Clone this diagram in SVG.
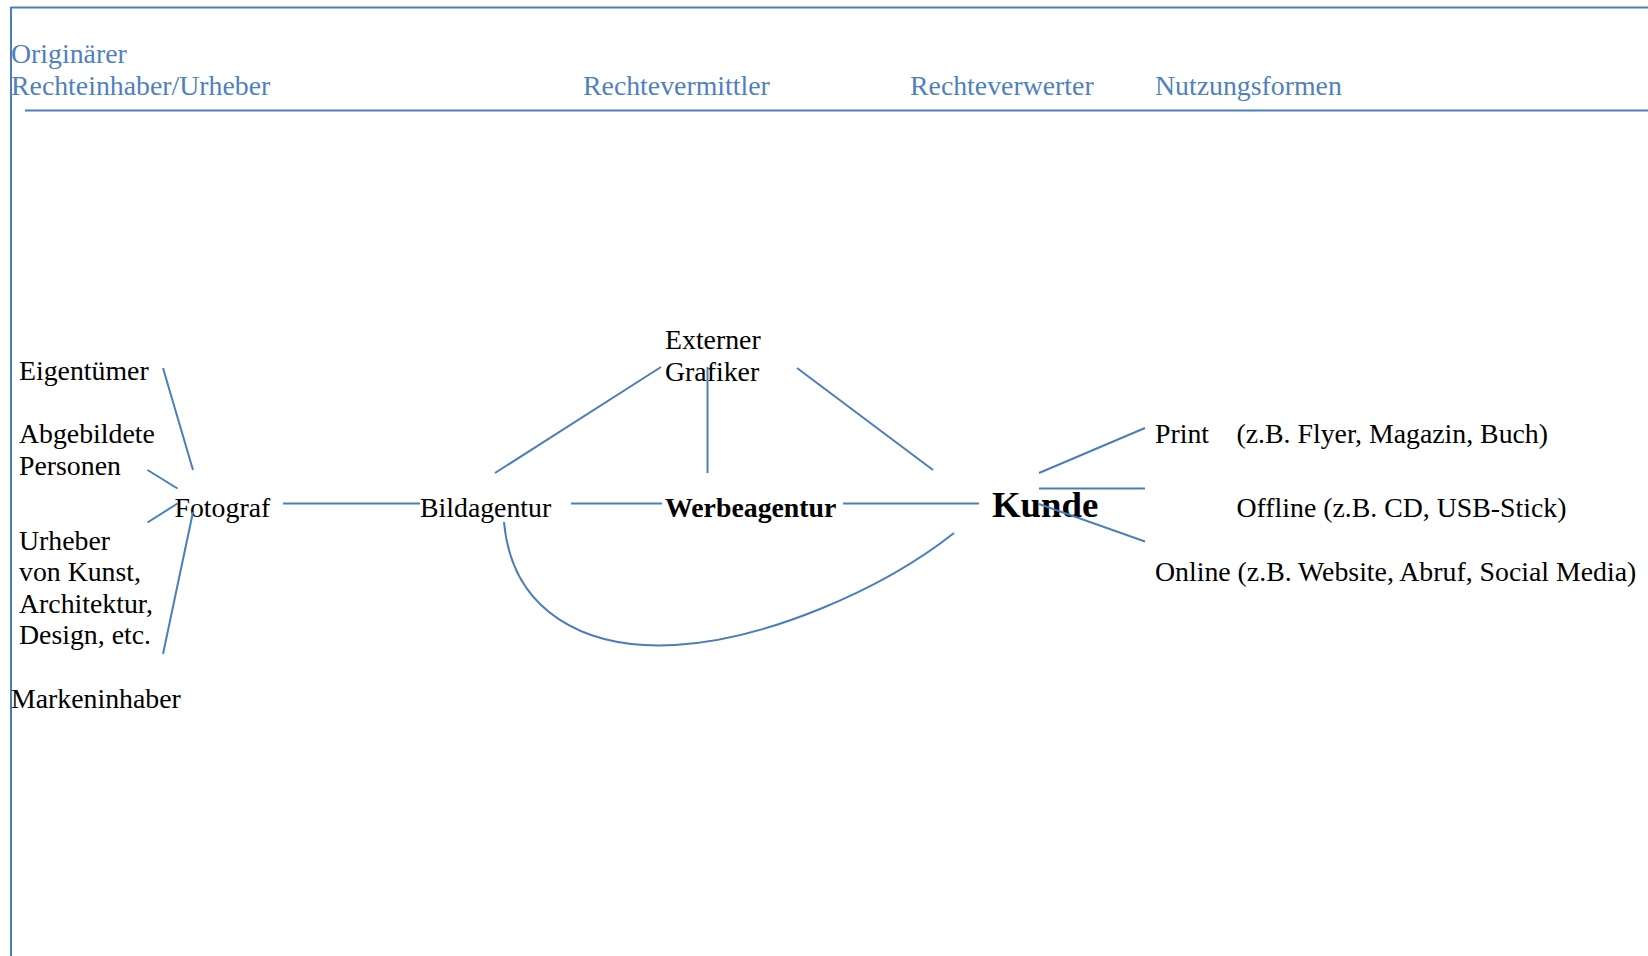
<svg xmlns="http://www.w3.org/2000/svg" width="1648" height="956" viewBox="0 0 1648 956">
<style>
text{font-family:"Liberation Serif","Times New Roman",serif;font-size:27.8px;fill:#000}
.hd{fill:#4f81bd}
.b{font-weight:bold}
.k{font-weight:bold;font-size:36.8px}
.ln{stroke:#4a7ebb;stroke-width:2;fill:none}
</style>
<rect width="1648" height="956" fill="#fff"/>
<g id="frame">
<line class="ln" x1="10.5" y1="7.5" x2="1648" y2="7.5"/>
<line class="ln" x1="11" y1="7" x2="11" y2="956"/>
<line class="ln" x1="25" y1="110.5" x2="1648" y2="110.5"/>
</g>
<g id="header">
<text class="hd" x="11" y="63">Originärer</text>
<text class="hd" x="11" y="94.5">Rechteinhaber/Urheber</text>
<text class="hd" x="583" y="94.5">Rechtevermittler</text>
<text class="hd" x="910" y="94.5">Rechteverwerter</text>
<text class="hd" x="1155" y="94.5">Nutzungsformen</text>
</g>
<g id="eigentuemer"><text x="19" y="380">Eigentümer</text></g>
<g id="abgebildete"><text x="19" y="443">Abgebildete</text><text x="19" y="475">Personen</text></g>
<g id="urheber"><text x="19" y="549.5">Urheber</text><text x="19" y="581">von Kunst,</text><text x="19" y="612.5">Architektur,</text><text x="19" y="644">Design, etc.</text></g>
<g id="markeninhaber"><text x="11" y="707.5">Markeninhaber</text></g>
<g id="fotograf"><text x="174.5" y="517">Fotograf</text></g>
<g id="bildagentur"><text x="420" y="517">Bildagentur</text></g>
<g id="grafiker"><text x="665" y="349">Externer</text><text x="665" y="380.5">Grafiker</text></g>
<g id="werbeagentur"><text class="b" x="665" y="517">Werbeagentur</text></g>
<g id="kunde"><text class="k" x="992" y="517">Kunde</text></g>
<g id="print"><text x="1155" y="443">Print</text><text x="1236.5" y="443">(z.B. Flyer, Magazin, Buch)</text></g>
<g id="offline"><text x="1236.5" y="517">Offline (z.B. CD, USB-Stick)</text></g>
<g id="online"><text x="1155" y="581">Online (z.B. Website, Abruf, Social Media)</text></g>
<g id="connectors">
<line class="ln" x1="163" y1="368" x2="193" y2="470"/>
<line class="ln" x1="147.5" y1="470" x2="177.5" y2="488.5"/>
<line class="ln" x1="147.5" y1="522.5" x2="177.5" y2="503.5"/>
<line class="ln" x1="163" y1="654" x2="193" y2="512"/>
<line class="ln" x1="283" y1="503.5" x2="420" y2="503.5"/>
<line class="ln" x1="571" y1="503.5" x2="662" y2="503.5"/>
<line class="ln" x1="843" y1="503.5" x2="979" y2="503.5"/>
<line class="ln" x1="495" y1="473" x2="661" y2="367"/>
<line class="ln" x1="707.5" y1="367" x2="707.5" y2="473"/>
<line class="ln" x1="797" y1="368" x2="933" y2="470"/>
<path class="ln" d="M504 522 C512 612 585 650 675 645 C765 640 882 590 954 533"/>
<line class="ln" x1="1039" y1="473" x2="1145" y2="428"/>
<line class="ln" x1="1039" y1="488.5" x2="1145" y2="488.5"/>
<line class="ln" x1="1039" y1="504" x2="1145" y2="541.5"/>
</g>
</svg>
